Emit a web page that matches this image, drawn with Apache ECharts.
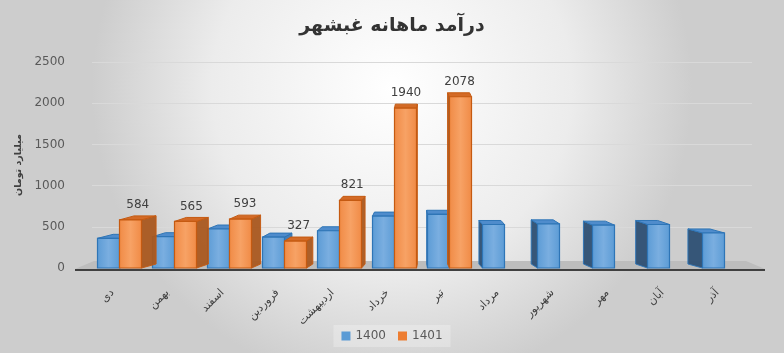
<!DOCTYPE html>
<html>
<head>
<meta charset="utf-8"/>
<script src="https://cdn.jsdelivr.net/npm/echarts@6/dist/echarts.min.js"></script>
<style>
  html, body { margin:0; padding:0; }
  #chart { width:784px; height:353px; }
</style>
</head>
<body>
<div id="chart"></div>
<script>
// months (right-to-left order as shown, left to right on screen)
var months = ['دی','بهمن','اسفند','فروردین','اردیبهشت','خرداد','تیر','مرداد','شهریور','مهر','آبان','آذر'];
var s1400 = [360, 380, 473, 375, 452, 630, 652, 528, 536, 520, 528, 425];
var s1401 = [584, 565, 593, 327, 821, 1940, 2078, null, null, null, null, null];
var yTicks = [0, 500, 1000, 1500, 2000, 2500];

var chart = echarts.init(document.getElementById('chart'));

// draws one 3D-looking bar; slot -1 = left half of category, 0 = right half
function bar3d(params, api, slot, face, side, top, border, showLabel){
  var v = api.value(1);
  if (v == null || isNaN(v)) return null;
  var cs = params.coordSys;
  var base = api.coord([api.value(0), 0]);
  var tip = api.coord([api.value(0), v]);
  var w = api.size([1, 0])[0] * 0.4;
  var x0 = base[0] + slot * w;
  var cx = x0 + w / 2;
  var vx = cs.x + cs.width * 0.5;
  var dx = (vx - cx) * 0.05;
  var dy = -4;
  var kids = [];
  var sidePts;
  if (dx >= 0) {
    sidePts = [[x0 + w, tip[1]], [x0 + w + dx, tip[1] + dy], [x0 + w + dx, base[1] + dy], [x0 + w, base[1]]];
  } else {
    sidePts = [[x0, tip[1]], [x0 + dx, tip[1] + dy], [x0 + dx, base[1] + dy], [x0, base[1]]];
  }
  kids.push({type:'polygon', shape:{points:sidePts}, style:{fill:side, stroke:border, lineWidth:1, opacity:0.95}});
  kids.push({type:'polygon', shape:{points:[[x0, tip[1]], [x0 + w, tip[1]], [x0 + w + dx, tip[1] + dy], [x0 + dx, tip[1] + dy]]},
    style:{fill:top, stroke:border, lineWidth:1}});
  kids.push({type:'rect', shape:{x:x0, y:tip[1], width:w, height:base[1] - tip[1]},
    style:{fill:face, stroke:border, lineWidth:1.2}});
  if (showLabel) {
    kids.push({type:'text', style:{text:String(v), x:cx + dx / 2, y:tip[1] + dy - 5,
      align:'center', verticalAlign:'bottom', fill:'#404040', fontSize:12, fontFamily:'DejaVu Sans'}});
  }
  return {type:'group', children:kids};
}

var blueFace = {type:'linear', x:0, y:0, x2:1, y2:0, colorStops:[{offset:0, color:'#5b9bd5'},{offset:0.5, color:'#7aaee0'},{offset:1, color:'#5b9bd5'}]};
var orangeFace = {type:'linear', x:0, y:0, x2:1, y2:0, colorStops:[{offset:0, color:'#f08a45'},{offset:0.5, color:'#f7a265'},{offset:1, color:'#f08a45'}]};

var option = {
  backgroundColor:{type:'radial', x:0.5, y:0.25, r:0.85,
    colorStops:[{offset:0, color:'#ffffff'},{offset:0.6, color:'#ececec'},{offset:1, color:'#cdcdcd'}]},
  animation:false,
  title:{
    text:'درآمد ماهانه غبشهر', left:'center', top:12,
    textStyle:{fontFamily:'DejaVu Sans', fontSize:19, fontWeight:'bold', color:'#333333'}
  },
  legend:{
    bottom:6, left:'center', itemWidth:9, itemHeight:9, itemGap:12, icon:'rect',
    data:['1400','1401'],
    backgroundColor:'rgba(255,255,255,0.25)', padding:[5,8],
    textStyle:{fontFamily:'DejaVu Sans', fontSize:12, color:'#595959'}
  },
  grid:{left:92, right:32, top:62, bottom:85},
  xAxis:{
    type:'category', data:months,
    axisTick:{show:false},
    axisLine:{show:false},
    axisLabel:{rotate:45, margin:16, fontFamily:'DejaVu Sans', fontSize:11, color:'#404040', interval:0,
      padding:[0, 10, 0, 0]}
  },
  yAxis:{
    type:'value', min:yTicks[0], max:yTicks[yTicks.length - 1], interval:500,
    name:'میلیارد تومان', nameLocation:'middle', nameRotate:90, nameGap:60,
    nameTextStyle:{fontFamily:'DejaVu Sans', fontSize:9.5, fontWeight:'bold', color:'#404040'},
    axisLine:{show:false}, axisTick:{show:false},
    axisLabel:{margin:27, fontFamily:'DejaVu Sans', fontSize:12, color:'#595959',
      formatter:function(v){ return String(v); }},
    splitLine:{lineStyle:{color:'#d9d9d9'}}
  },
  series:[
    {
      name:'floor', type:'custom', z:1, silent:true, legendHoverLink:false,
      data:[[0, 0]],
      renderItem:function(params, api){
        var cs = params.coordSys;
        var b = api.coord([0, 0])[1];
        return {type:'group', children:[
          {type:'polygon', shape:{points:[[cs.x - 17, b + 1], [cs.x + cs.width + 13, b + 1], [cs.x + cs.width - 6, b - 7], [cs.x + 2, b - 7]]},
            style:{fill:'#bdbdbd'}},
          {type:'line', shape:{x1:cs.x - 17, y1:b + 2, x2:cs.x + cs.width + 13, y2:b + 2},
            style:{stroke:'#404040', lineWidth:2}}
        ]};
      }
    },
    {
      name:'1400', type:'custom', z:3,
      itemStyle:{color:'#5b9bd5', borderColor:'#2e75b6'},
      data:s1400.map(function(v, i){ return [i, v]; }),
      renderItem:function(params, api){
        var cs = params.coordSys;
        var base = api.coord([api.value(0), 0]);
        var darkSide = base[0] > cs.x + cs.width * 0.5 ? '#2d4f73' : '#3c78b4';
        return bar3d(params, api, -1, blueFace, darkSide, '#4f8ccc', '#2e75b6', false);
      }
    },
    {
      name:'1401', type:'custom', z:4,
      itemStyle:{color:'#ed7d31', borderColor:'#c55a11'},
      data:s1401.map(function(v, i){ return [i, v]; }),
      renderItem:function(params, api){
        return bar3d(params, api, 0, orangeFace, '#a9571f', '#d36a26', '#c55a11', true);
      }
    }
  ]
};
chart.setOption(option);
</script>
</body>
</html>
